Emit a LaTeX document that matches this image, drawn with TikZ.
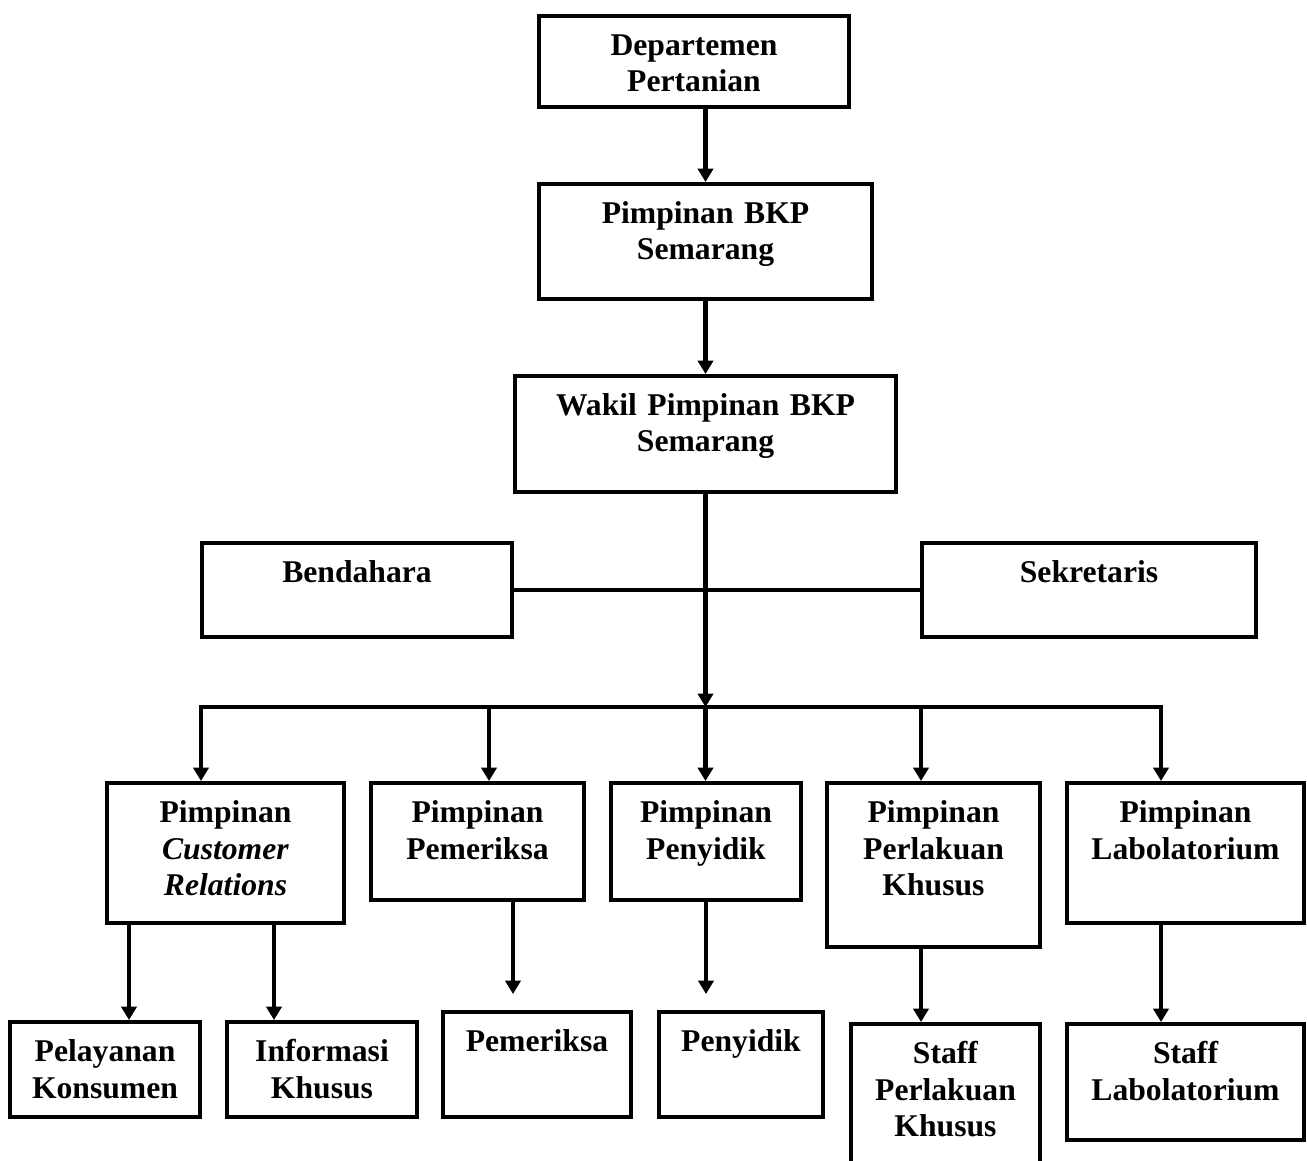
\documentclass[tikz,border=0pt]{standalone}
\usepackage{fontspec}
\setmainfont{Liberation Serif}
\usetikzlibrary{arrows.meta}
\tikzset{
  orgbox/.style={draw, line width=1.15pt, inner sep=0pt, anchor=north, align=center,
    text height=11.1pt, font=\fontsize{9}{10.5}\selectfont\bfseries},
  link/.style={line width=1.15pt},
}
\begin{document}
\begin{tikzpicture}[x=0.01cm, y=-0.01cm, >={Triangle[length=3.8pt, width=4.3pt]}]
    \path[use as bounding box, clip] (0,0) rectangle (1307,1160);

    % top of the chart
    \node[orgbox, text width=3.10cm, text depth=0.52cm] (dept) at (694,14) {Departemen\\Pertanian};
    \node[orgbox, text width=3.33cm, text depth=0.76cm] (bkp) at (705.5,182) {Pimpinan BKP\\Semarang};
    \node[orgbox, text width=3.81cm, text depth=0.77cm] (wakil) at (705.5,374) {Wakil Pimpinan BKP\\Semarang};
    \node[orgbox, text width=3.10cm, text depth=0.55cm] (bend) at (357,541) {Bendahara};
    \node[orgbox, text width=3.34cm, text depth=0.55cm] (sekr) at (1089,541) {Sekretaris};

    % leaders
    \node[orgbox, text width=2.37cm, text depth=1.01cm] (cr) at (225.5,781) {Pimpinan\\\textit{Customer}\\\textit{Relations}};
    \node[orgbox, text width=2.13cm, text depth=0.78cm] (pem) at (477.5,781) {Pimpinan\\Pemeriksa};
    \node[orgbox, text width=1.90cm, text depth=0.78cm] (pen) at (706,781) {Pimpinan\\Penyidik};
    \node[orgbox, text width=2.13cm, text depth=1.25cm] (plk) at (933.5,781) {Pimpinan\\Perlakuan\\Khusus};
    \node[orgbox, text width=2.37cm, text depth=1.01cm] (lab) at (1185.5,781) {Pimpinan\\Labolatorium};

    % staff
    \node[orgbox, text width=1.90cm, text depth=0.56cm] (kons) at (105,1020) {Pelayanan\\Konsumen};
    \node[orgbox, text width=1.90cm, text depth=0.56cm] (info) at (322,1020) {Informasi\\Khusus};
    \node[orgbox, text width=1.88cm, text depth=0.66cm] (spem) at (537,1010) {Pemeriksa};
    \node[orgbox, text width=1.64cm, text depth=0.66cm] (spen) at (741,1010) {Penyidik};
    \node[orgbox, text width=1.89cm, text depth=1.11cm] (splk) at (945.5,1022) {Staff\\Perlakuan\\Khusus};
    \node[orgbox, text width=2.37cm, text depth=0.77cm] (slab) at (1185.5,1022) {Staff\\Labolatorium};

    \coordinate (tap1) at (201,707);
    \coordinate (tap2) at (489,707);
    \coordinate (tap3) at (705.5,707);
    \coordinate (tap4) at (921,707);
    \coordinate (tap5) at (1161,707);

    \draw[link, ->] (bkp.north |- dept.south) -- (bkp.north);
    \draw[link, ->] (bkp.south) -- (wakil.north);
    \draw[link] (bend.east) -- (sekr.west);
    \draw[link, ->] (wakil.south) -- (tap3);

    \draw[link, <->] (tap1 |- cr.north) -- (tap1) -- (tap5) -- (tap5 |- lab.north);
    \draw[link, ->] (tap2) -- (tap2 |- pem.north);
    \draw[link, ->] (tap3) -- (tap3 |- pen.north);
    \draw[link, ->] (tap4) -- (tap4 |- plk.north);

    \draw[link, ->] (cr.south -| 129,0) -- (kons.north -| 129,0);
    \draw[link, ->] (cr.south -| 274,0) -- (info.north -| 274,0);
    \draw[link, ->, shorten >=0.16cm] (pem.south -| 513,0) -- (spem.north -| 513,0);
    \draw[link, ->, shorten >=0.16cm] (pen.south) -- (spen.north -| pen.south);
    \draw[link, ->] (plk.south -| 921,0) -- (splk.north -| 921,0);
    \draw[link, ->] (lab.south -| 1161,0) -- (slab.north -| 1161,0);
\end{tikzpicture}
\end{document}
